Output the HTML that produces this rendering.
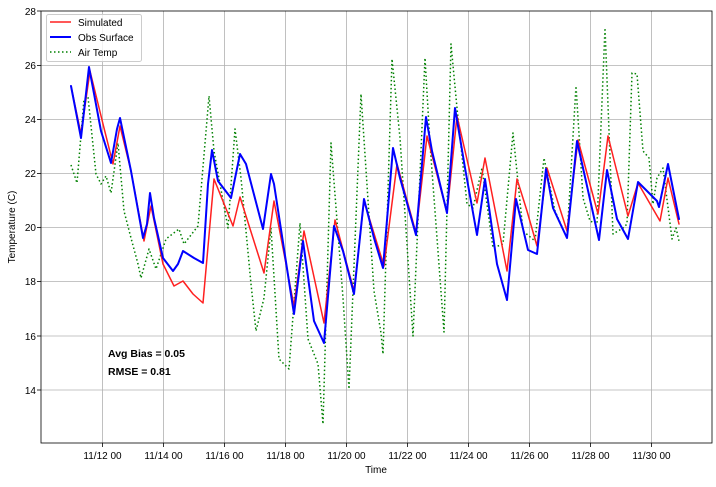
<!DOCTYPE html>
<html><head><style>body{margin:0;background:#fff}svg{font-family:"Liberation Sans","DejaVu Sans",sans-serif}</style></head><body>
<svg width="716" height="482" viewBox="0 0 716 482">
<rect width="716" height="482" fill="#fff"/>
<g stroke="#b0b0b0" stroke-width="0.8">
<line x1="102.5" y1="11" x2="102.5" y2="443"/><line x1="163.5" y1="11" x2="163.5" y2="443"/><line x1="224.5" y1="11" x2="224.5" y2="443"/><line x1="285.5" y1="11" x2="285.5" y2="443"/><line x1="346.5" y1="11" x2="346.5" y2="443"/><line x1="407.5" y1="11" x2="407.5" y2="443"/><line x1="468.5" y1="11" x2="468.5" y2="443"/><line x1="529.5" y1="11" x2="529.5" y2="443"/><line x1="590.5" y1="11" x2="590.5" y2="443"/><line x1="651.5" y1="11" x2="651.5" y2="443"/>
<line x1="41" y1="65.5" x2="712" y2="65.5"/><line x1="41" y1="119.5" x2="712" y2="119.5"/><line x1="41" y1="173.5" x2="712" y2="173.5"/><line x1="41" y1="227.5" x2="712" y2="227.5"/><line x1="41" y1="281.5" x2="712" y2="281.5"/><line x1="41" y1="336" x2="712" y2="336"/><line x1="41" y1="390" x2="712" y2="390"/>
</g>
<g fill="none" stroke-linejoin="round" stroke-linecap="round">
<polyline stroke="#008000" stroke-width="1.5" stroke-dasharray="1.5,2.5" stroke-linecap="butt" points="71,165 77,183 84,99 88,97 96,174 101,184 106,176 111,193 118,143 124,211 131,238 138,264 141,278 149,249 156,269 166,239 179,229 184,244 198,226 209,96 214,151 228,228 235,129 241,178 251,284 256,331 264,298 271,228 279,359 289,369 300,223 308,339 318,364 323,424 331,143 343,298 349,389 361,94 374,291 381,333 383,354 392,59 400,138 413,336 425,58 430,144 444,332 451,44 457,108 467,204 473,208 482,168 493,248 503,244 513,133 523,231 535,241 544,158 555,211 567,238 576,86 583,198 590,221 597,224 605,28 613,234 623,228 627,224 632,73 637,74 643,151 649,158 653,204 657,178 663,168 672,239 676,228 679,241"/>
<polyline stroke="#ff2020" stroke-width="1.5" points="71,86 81,134 90,71 103,124 113,164 120,126 131,171 144,241 151,206 163,264 174,286 183,281 193,294 203,303 214,179 233,226 240,197 264,273 274,201 294,306 304,231 324,323 335,220 354,291 364,201 384,266 397,164 416,233 427,136 447,213 457,116 477,203 485,158 507,271 517,179 527,211 537,246 547,168 567,231 578,140 598,214 608,136 628,216 638,183 660,221 668,178 679,224"/>
<polyline stroke="#0000ff" stroke-width="2" points="71,86 81,138 89,67 101,131 111,163 117,129 120,118 131,171 143,238 147,224 150,193 154,218 163,258 173,271 178,264 183,251 194,258 203,263 208,184 212,150 218,181 231,198 240,154 246,164 263,229 271,174 274,184 294,314 303,241 314,321 324,343 334,226 343,251 354,294 364,199 374,238 383,268 393,148 400,178 416,235 426,117 432,151 447,213 455,108 465,168 477,235 485,179 497,264 507,300 516,199 528,250 537,254 546,169 553,208 567,238 577,141 583,168 599,240 607,170 617,219 628,239 638,182 657,201 659,207 668,164 679,219"/>
</g>
<rect x="41" y="11" width="671" height="432" fill="none" stroke="#000" stroke-width="0.8"/>
<g font-size="10" fill="#000" text-anchor="end">
<text x="36" y="15">28</text><text x="36" y="69">26</text><text x="36" y="123">24</text><text x="36" y="177">22</text><text x="36" y="231">20</text><text x="36" y="285">18</text><text x="36" y="340">16</text><text x="36" y="394">14</text>
</g>
<g stroke="#000" stroke-width="0.8">
<line x1="37" y1="11" x2="41" y2="11"/><line x1="37" y1="65.5" x2="41" y2="65.5"/><line x1="37" y1="119.5" x2="41" y2="119.5"/><line x1="37" y1="173.5" x2="41" y2="173.5"/><line x1="37" y1="227.5" x2="41" y2="227.5"/><line x1="37" y1="281.5" x2="41" y2="281.5"/><line x1="37" y1="336" x2="41" y2="336"/><line x1="37" y1="390" x2="41" y2="390"/>
<line x1="102.5" y1="443" x2="102.5" y2="447"/><line x1="163.5" y1="443" x2="163.5" y2="447"/><line x1="224.5" y1="443" x2="224.5" y2="447"/><line x1="285.5" y1="443" x2="285.5" y2="447"/><line x1="346.5" y1="443" x2="346.5" y2="447"/><line x1="407.5" y1="443" x2="407.5" y2="447"/><line x1="468.5" y1="443" x2="468.5" y2="447"/><line x1="529.5" y1="443" x2="529.5" y2="447"/><line x1="590.5" y1="443" x2="590.5" y2="447"/><line x1="651.5" y1="443" x2="651.5" y2="447"/>
</g>
<g font-size="10" fill="#000" text-anchor="middle">
<text x="102.5" y="459">11/12 00</text><text x="163.5" y="459">11/14 00</text><text x="224.5" y="459">11/16 00</text><text x="285.5" y="459">11/18 00</text><text x="346.5" y="459">11/20 00</text><text x="407.5" y="459">11/22 00</text><text x="468.5" y="459">11/24 00</text><text x="529.5" y="459">11/26 00</text><text x="590.5" y="459">11/28 00</text><text x="651.5" y="459">11/30 00</text>
<text x="376" y="473">Time</text>
<text transform="translate(15,227) rotate(-90)">Temperature (C)</text>
</g>
<g font-size="10.5" font-weight="bold"><text x="108" y="357">Avg Bias = 0.05</text><text x="108" y="375">RMSE = 0.81</text></g>
<rect x="46.5" y="14.5" width="95" height="47" fill="#fff" fill-opacity="0.8" stroke="#ccc" rx="2"/>
<line x1="50" y1="22" x2="71" y2="22" stroke="#ff2020" stroke-width="1.5"/>
<line x1="50" y1="37" x2="71" y2="37" stroke="#0000ff" stroke-width="2"/>
<line x1="50" y1="52" x2="71" y2="52" stroke="#008000" stroke-width="1.5" stroke-dasharray="1.5,2.5"/>
<g font-size="10"><text x="78" y="26">Simulated</text><text x="78" y="41">Obs Surface</text><text x="78" y="56">Air Temp</text></g>
</svg>
</body></html>
